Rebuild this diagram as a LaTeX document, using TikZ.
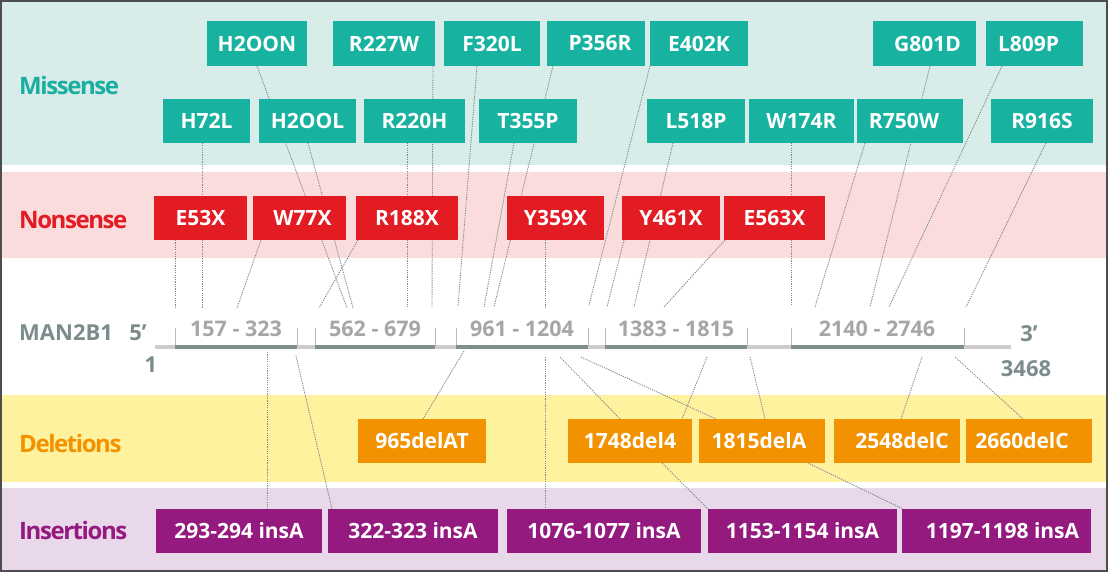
\documentclass[tikz,border=0pt]{standalone}
\usepackage{fontspec}
\setmainfont{Open Sans}
\newfontfamily\catfont{Open Sans}[LetterSpace=-6]
\usetikzlibrary{calc}
\definecolor{tealband}{HTML}{D8EDEA}
\definecolor{tealbox}{HTML}{18B2A1}
\definecolor{teallab}{HTML}{19AE9F}
\definecolor{pinkband}{HTML}{FBDCDD}
\definecolor{redbox}{HTML}{E31B23}
\definecolor{yellowband}{HTML}{FFF29F}
\definecolor{orangebox}{HTML}{F39200}
\definecolor{purpleband}{HTML}{E9D7EA}
\definecolor{purplebox}{HTML}{951A80}
\definecolor{slate}{HTML}{7C8C8C}
\definecolor{rangegray}{HTML}{A6A6A6}
\definecolor{barlight}{HTML}{CCCCCC}
\definecolor{bardark}{HTML}{7D8E8D}
\definecolor{tickgray}{HTML}{BDBDBD}
\definecolor{linegray}{HTML}{7F8A8A}
\definecolor{framegray}{HTML}{4D4D4D}
\pgfdeclarelayer{bg}
\pgfdeclarelayer{lines}
\pgfsetlayers{bg,lines,main}
\newcommand\mkbox[8]{\node[#6, minimum width={(#4-#2)*1pt}, minimum height={(#5-#3)*1pt}] (#1) at ({(#2+#4)/2},{(#3+#5)/2}) {};
  \node[box, text=white] at ($(#1.center)+(#7,0)$) {#8};}
\begin{document}
\begin{tikzpicture}[x=1pt,y=-1pt,
  box/.style={inner sep=0pt, outer sep=0pt, text=white, font=\bfseries\fontsize{21}{21}\selectfont},
  mis/.style={box, fill=tealbox},
  non/.style={box, fill=redbox},
  del/.style={box, fill=orangebox},
  ins/.style={box, fill=purplebox},
  conn/.style={draw=linegray, line width=0.9pt, dash pattern=on 1.2pt off 1.1pt},
  cat/.style={anchor=west, inner sep=0pt, font=\catfont\bfseries\fontsize{24}{24}\selectfont},
  rng/.style={inner sep=0pt, text=rangegray, font=\bfseries\fontsize{21.5}{21.5}\selectfont},
  gl/.style={inner sep=0pt, text=slate, font=\bfseries\fontsize{22}{22}\selectfont},
  tick/.style={draw=tickgray, line width=1pt}]
\useasboundingbox (0,0) rectangle (1108,572);
\begin{pgfonlayer}{bg}
  \fill[white] (0,0) rectangle (1108,572);
  \fill[tealband] (2,2) rectangle (1106,165);
  \fill[pinkband] (2,172) rectangle (1106,258);
  \fill[yellowband] (2,395) rectangle (1106,482);
  \fill[purpleband] (2,488) rectangle (1106,570);
  \draw[framegray, line width=2pt] (1,1) rectangle (1107,571);
\end{pgfonlayer}

% category labels
\node[cat, text=teallab] (lmis) at (19,86) {Missense};
\node[cat, text=redbox] (lnon) at (19,220) {Nonsense};
\node[cat, text=orangebox] (ldel) at (19,443) {Deletions};
\node[cat, text=purplebox] (lins) at (19,530) {Insertions};

% missense boxes
\mkbox{H2OON}{207}{21}{307}{66}{mis}{0}{H2OON}
\mkbox{R227W}{333}{21}{435}{66}{mis}{0}{R227W}
\mkbox{F320L}{444}{21}{540}{66}{mis}{0}{F320L}
\mkbox{P356R}{547}{21}{645}{66}{mis}{4}{P356R}
\mkbox{E402K}{650}{21}{748}{66}{mis}{0}{E402K}
\mkbox{G801D}{873}{21}{976}{66}{mis}{3}{G801D}
\mkbox{L809P}{986}{21}{1083}{66}{mis}{-6}{L809P}
\mkbox{H72L}{163}{99}{250}{143}{mis}{0}{H72L}
\mkbox{H2OOL}{259}{99}{356}{143}{mis}{0}{H2OOL}
\mkbox{R220H}{364}{99}{465}{143}{mis}{0}{R220H}
\mkbox{T355P}{479}{99}{577}{143}{mis}{0}{T355P}
\mkbox{L518P}{647}{99}{745}{143}{mis}{0}{L518P}
\mkbox{W174R}{749}{99}{854}{143}{mis}{0}{W174R}
\mkbox{R750W}{857}{99}{963}{143}{mis}{-6}{R750W}
\mkbox{R916S}{991}{99}{1093}{143}{mis}{0}{R916S}

% nonsense boxes
\mkbox{E53X}{154}{196}{247}{240}{non}{0}{E53X}
\mkbox{W77X}{253}{196}{346}{240}{non}{3}{W77X}
\mkbox{R188X}{356}{196}{458}{240}{non}{0}{R188X}
\mkbox{Y359X}{507}{196}{604}{240}{non}{0}{Y359X}
\mkbox{Y461X}{622}{196}{720}{240}{non}{0}{Y461X}
\mkbox{E563X}{724}{196}{825}{240}{non}{0}{E563X}

% deletion boxes
\mkbox{d965}{358}{419}{486}{463}{del}{0}{965delAT}
\mkbox{d1748}{568}{419}{692}{463}{del}{0}{1748del4}
\mkbox{d1815}{699}{419}{825}{463}{del}{-3}{1815delA}
\mkbox{d2548}{834}{419}{960}{463}{del}{5}{2548delC}
\mkbox{d2660}{966}{419}{1092}{463}{del}{-7}{2660delC}

% insertion boxes
\mkbox{i293}{156}{509}{322}{553}{ins}{0}{293-294 insA}
\mkbox{i322}{328}{509}{498}{553}{ins}{0}{322-323 insA}
\mkbox{i1076}{507}{509}{701}{553}{ins}{0}{1076-1077 insA}
\mkbox{i1153}{708}{509}{897}{553}{ins}{0}{1153-1154 insA}
\mkbox{i1197}{902}{509}{1091}{553}{ins}{6}{1197-1198 insA}

% gene
\draw[barlight, line width=4.5pt] (155,347) -- (1011,347);
\foreach \a/\b in {175/297, 315/435, 456/588, 605/747, 791/964}{
  \draw[bardark, line width=4.5pt] (\a,347) -- (\b,347);
  \draw[tick] (\a,328) -- (\a,345);
  \draw[tick] (\b,328) -- (\b,345);
}
\node[gl, anchor=west] (gene) at (19,333) {MAN2B1};
\node[gl] (five) at (138,333) {5’};
\node[gl] (one) at (151,365) {1};
\node[gl] (three) at (1029,334) {3’};
\node[gl] (len) at (1026,369) {3468};
\node[rng] (r1) at (236,328.5) {157 - 323};
\node[rng] (r2) at (375,328.5) {562 - 679};
\node[rng] (r3) at (522,328.5) {961 - 1204};
\node[rng] (r4) at (676,328.5) {1383 - 1815};
\node[rng] (r5) at (877,328.5) {2140 - 2746};

% end points on the gene
\coordinate (eH2OON) at (347,308);
\coordinate (eR227W) at (432,307);
\coordinate (eF320L) at (458,306);
\coordinate (eP356R) at (494,307);
\coordinate (eE402K) at (589,305);
\coordinate (eG801D) at (870,307);
\coordinate (eL809P) at (889,307);
\coordinate (eH72L) at (202,308);
\coordinate (eH2OOL) at (353,308);
\coordinate (eR220H) at (407,307);
\coordinate (eT355P) at (484,307);
\coordinate (eL518P) at (634,307);
\coordinate (eW174R) at (791,305);
\coordinate (eR750W) at (815,307);
\coordinate (eR916S) at (966,307);
\coordinate (eE53X) at (175,307);
\coordinate (eW77X) at (237,308);
\coordinate (eR188X) at (319,308);
\coordinate (eY359X) at (545,307);
\coordinate (eY461X) at (607,307);
\coordinate (eE563X) at (664,307);
\coordinate (si293) at (267,352);
\coordinate (si322) at (296,356);
\coordinate (sd965) at (464,351);
\coordinate (si1076) at (545,357);
\coordinate (sd1748a) at (560,357);
\coordinate (sd1815a) at (581,357);
\coordinate (sd1748b) at (707,357);
\coordinate (sd1815b) at (750,357);
\coordinate (sd2548) at (922,357);
\coordinate (sd2660) at (955,357);

\begin{pgfonlayer}{lines}
  \draw[conn] ($(H2OON.south west)+(50,0)$) -- (eH2OON);
  \draw[conn] ($(R227W.south west)+(100,0)$) -- (eR227W);
  \draw[conn] ($(F320L.south west)+(33,0)$) -- (eF320L);
  \draw[conn] ($(P356R.south west)+(6,0)$) -- (eP356R);
  \draw[conn] (E402K.south west) -- (eE402K);
  \draw[conn] ($(G801D.south west)+(57,0)$) -- (eG801D);
  \draw[conn] ($(L809P.south west)+(16,0)$) -- (eL809P);
  \draw[conn] ($(H72L.south west)+(39,0)$) -- (eH72L);
  \draw[conn] ($(H2OOL.south west)+(49,0)$) -- (eH2OOL);
  \draw[conn] ($(R220H.south west)+(43,0)$) -- (eR220H);
  \draw[conn] ($(T355P.south west)+(35,0)$) -- (eT355P);
  \draw[conn] ($(L518P.south west)+(26,0)$) -- (eL518P);
  \draw[conn] ($(W174R.south west)+(42,0)$) -- (eW174R);
  \draw[conn] ($(R750W.south west)+(8,0)$) -- (eR750W);
  \draw[conn] ($(R916S.south west)+(55,0)$) -- (eR916S);
  \draw[conn] ($(E53X.south west)+(21,0)$) -- (eE53X);
  \draw[conn] ($(W77X.south west)+(8,0)$) -- (eW77X);
  \draw[conn] ($(R188X.south west)+(2,0)$) -- (eR188X);
  \draw[conn] ($(Y359X.south west)+(38,0)$) -- (eY359X);
  \draw[conn] ($(Y461X.south west)+(2,0)$) -- (eY461X);
  \draw[conn] ($(E563X.south west)+(1,0)$) -- (eE563X);
  \draw[conn] (si293) -- ($(i293.north west)+(111,0)$);
  \draw[conn] (si322) -- ($(i322.north west)+(4,0)$);
  \draw[conn] (sd965) -- ($(d965.north west)+(65,0)$);
  \draw[conn] (si1076) -- ($(i1076.north west)+(38,0)$);
  \draw[conn] (sd1748a) -- ($(d1748.north west)+(52,0)$);
  \draw[conn] (sd1815a) -- ($(d1815.north west)+(17,0)$);
  \draw[conn] (sd1748b) -- ($(d1748.north west)+(114,0)$);
  \draw[conn] (sd1815b) -- ($(d1815.north west)+(66,0)$);
  \draw[conn] (sd2548) -- ($(d2548.north west)+(67,0)$);
  \draw[conn] (sd2660) -- ($(d2660.north west)+(57,0)$);
  \draw[conn] ($(d1748.south west)+(94,0)$) -- (i1153.north west);
  \draw[conn] ($(d1815.south west)+(109,0)$) -- ($(i1197.north west)+(1,0)$);
\end{pgfonlayer}
\end{tikzpicture}
\end{document}
